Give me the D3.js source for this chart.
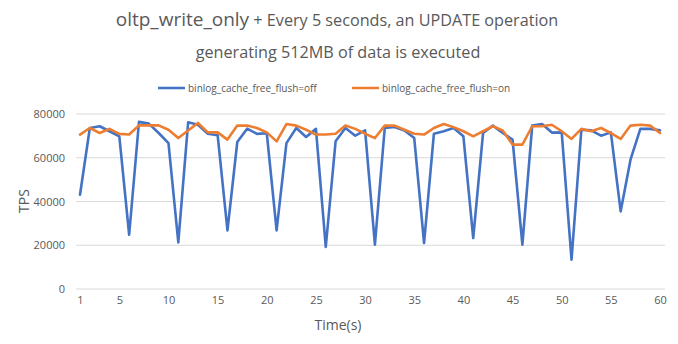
<!DOCTYPE html>
<html>
<head>
<meta charset="utf-8">
<script src="https://cdn.jsdelivr.net/npm/d3@7"></script>
<style>
  html, body { margin: 0; padding: 0; background: #fff; }
  svg { display: block; font-family: "Open Sans", "Noto Sans", sans-serif; }
</style>
</head>
<body>
<svg id="chart" width="678" height="344"></svg>
<script>
// Seconds 1..60 of the oltp_write_only run
const seconds = d3.range(1, 61);
const tickSeconds = [1, 5, 10, 15, 20, 25, 30, 35, 40, 45, 50, 55, 60];
const yTicks = [0, 20000, 40000, 60000, 80000];

const seriesNames = ["binlog_cache_free_flush=off", "binlog_cache_free_flush=on"];
const seriesColors = ["#4472C4", "#ED7D31"];

// TPS per second, binlog_cache_free_flush=off
const tpsOff = [
  43100, 73600, 74400, 72100, 69800, 24800, 76400, 75600, 71300, 66700,
  21300, 76200, 75100, 71000, 70300, 26800, 67200, 73300, 70900, 71200,
  26800, 66700, 73600, 69500, 73200, 19200, 67500, 73600, 70100, 72500,
  20300, 73600, 74100, 72500, 69000, 21000, 71000, 72100, 73600, 69800,
  23300, 71300, 74700, 71300, 68300, 20300, 74700, 75400, 71500, 71600,
  13400, 72800, 72500, 70100, 71600, 35500, 59100, 73200, 73200, 72500
];
// TPS per second, binlog_cache_free_flush=on
const tpsOn = [
  70600, 73600, 71300, 73200, 70900, 70600, 74800, 74800, 74800, 72800,
  69000, 72500, 75900, 71600, 71600, 68300, 74700, 74700, 73600, 71600,
  67500, 75400, 74700, 72800, 70600, 70600, 71000, 74700, 73200, 71000,
  69000, 74700, 74700, 72800, 71000, 70600, 73600, 75400, 74000, 72100,
  69800, 72100, 74400, 72500, 66000, 66000, 74400, 74400, 75100, 72100,
  68600, 73200, 72100, 73600, 71300, 68600, 74700, 75100, 74700, 71300
];
const series = [tpsOff, tpsOn];

const svg = d3.select("#chart");
const textColor = "#595959";

const x = d3.scaleLinear().domain([1, 60]).range([80, 660]);
const y = d3.scaleLinear().domain([0, 80000]).range([289, 114]);

// Title
const title = svg.append("text")
  .attr("x", 337).attr("y", 26)
  .attr("text-anchor", "middle")
  .attr("fill", textColor);
title.append("tspan").attr("font-size", 19).text("oltp_write_only");
title.append("tspan").attr("font-size", 16.2).text(" + Every 5 seconds, an UPDATE operation");
svg.append("text")
  .attr("x", 338).attr("y", 58)
  .attr("text-anchor", "middle")
  .attr("font-size", 16.2)
  .attr("fill", textColor)
  .text("generating 512MB of data is executed");

// Legend
const legendX = [158, 352];
seriesNames.forEach((name, i) => {
  const g = svg.append("g").attr("transform", `translate(${legendX[i]},88)`);
  g.append("line").attr("x1", 0).attr("x2", 27).attr("y1", 0).attr("y2", 0)
    .attr("stroke", seriesColors[i]).attr("stroke-width", 2.5);
  g.append("text").attr("x", 30).attr("y", 3.8)
    .attr("font-size", 10).attr("fill", textColor).text(name);
});

// Horizontal gridlines
svg.append("g")
  .selectAll("line")
  .data(yTicks)
  .join("line")
  .attr("x1", 76).attr("x2", 665)
  .attr("y1", d => y(d)).attr("y2", d => y(d))
  .attr("stroke", "#d9d9d9").attr("stroke-width", 1);

// Y axis labels
const yAxis = d3.axisLeft(y).tickValues(yTicks).tickSize(0).tickPadding(0).tickFormat(d3.format("d"));
svg.append("g")
  .attr("transform", "translate(65,0)")
  .call(yAxis)
  .call(g => g.select(".domain").remove())
  .call(g => g.selectAll("text").attr("font-size", 11).attr("fill", textColor)
    .attr("font-family", "\"Open Sans\", \"Noto Sans\", sans-serif"));

// X axis labels
const xAxis = d3.axisBottom(x).tickValues(tickSeconds).tickSize(0).tickPadding(0).tickFormat(d3.format("d"));
svg.append("g")
  .attr("transform", "translate(0,296)")
  .call(xAxis)
  .call(g => g.select(".domain").remove())
  .call(g => g.selectAll("text").attr("font-size", 11).attr("fill", textColor)
    .attr("font-family", "\"Open Sans\", \"Noto Sans\", sans-serif"));

// Axis titles
svg.append("text")
  .attr("x", 338).attr("y", 330)
  .attr("text-anchor", "middle")
  .attr("font-size", 14).attr("fill", textColor)
  .text("Time(s)");
svg.append("text")
  .attr("transform", "translate(29,201) rotate(-90)")
  .attr("text-anchor", "middle")
  .attr("font-size", 14).attr("fill", textColor)
  .text("TPS");

// Lines
const line = d3.line().x((d, i) => x(seconds[i])).y(d => y(d));
series.forEach((vals, i) => {
  svg.append("path")
    .datum(vals)
    .attr("d", line)
    .attr("fill", "none")
    .attr("stroke", seriesColors[i])
    .attr("stroke-width", 2.6)
    .attr("stroke-linejoin", "round")
    .attr("stroke-linecap", "round");
});
</script>
</body>
</html>
